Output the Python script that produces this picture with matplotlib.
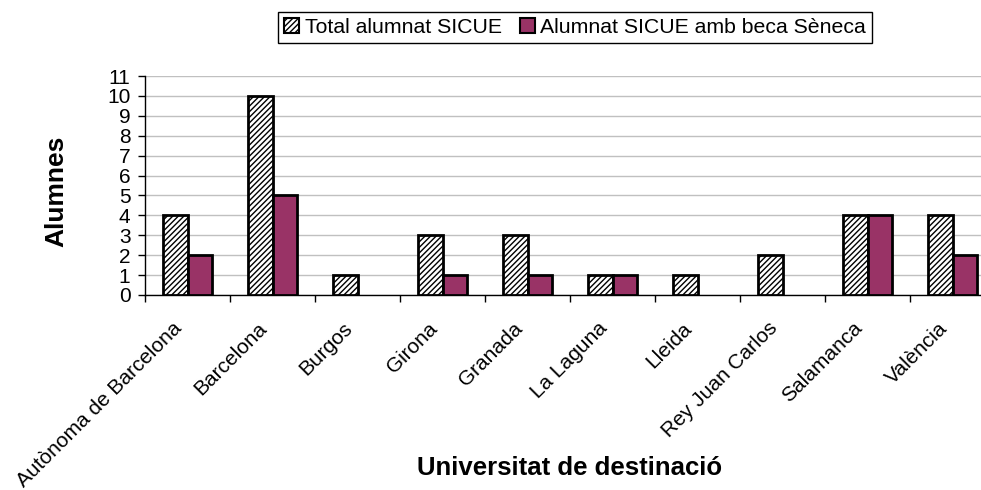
import matplotlib
matplotlib.use("Agg")
import matplotlib.pyplot as plt
import numpy as np
from matplotlib.patches import Patch
from matplotlib.transforms import ScaledTranslation

categories = ["Autònoma de Barcelona", "Barcelona", "Burgos", "Girona", "Granada",
              "La Laguna", "Lleida", "Rey Juan Carlos", "Salamanca", "València"]
total = [4, 10, 1, 3, 3, 1, 1, 2, 4, 4]
beca = [2, 5, 0, 1, 1, 1, 0, 0, 4, 2]
series_names = ["Total alumnat SICUE", "Alumnat SICUE amb beca Sèneca"]
yticks = list(range(0, 12))

plt.rcParams['font.family'] = ['Liberation Sans', 'DejaVu Sans']
plt.rcParams['hatch.linewidth'] = 1.0

fig = plt.figure(figsize=(9.81, 4.9), dpi=100)
ax = fig.add_axes([145/981, 1-295/490, 850/981, (295-76)/490])

x = np.arange(len(categories))
w = 0.29
purple = "#993366"
ax.bar(x - w/2, total, w, color="white", edgecolor="black", hatch="//////", linewidth=2, zorder=3)
bv = [v if v > 0 else np.nan for v in beca]
ax.bar(x + w/2, bv, w, color=purple, edgecolor="black", linewidth=2, zorder=3)

ax.set_xlim(-0.5, len(categories) - 0.5)
ax.set_ylim(0, 11)
ax.set_yticks(yticks)
ax.set_yticklabels([str(t) for t in yticks], fontsize=15)
ax.yaxis.grid(True, color="#c0c0c0", linewidth=1, zorder=0)
ax.set_axisbelow(True)

ax.set_xticks(np.arange(len(categories) + 1) - 0.5)
ax.set_xticklabels([])
ax.set_xticks(x, minor=True)
ax.set_xticklabels(categories, minor=True, rotation=45, ha="right", rotation_mode="anchor", fontsize=15)
ax.tick_params(axis="x", which="minor", length=0, pad=17)
ax.tick_params(axis="x", which="major", length=5, width=1, direction="out")
ax.tick_params(axis="y", length=5, width=1, direction="out", pad=5.5)
shift = ScaledTranslation(-15/100, 0, fig.dpi_scale_trans)
for lab in ax.get_xticklabels(minor=True):
    lab.set_transform(lab.get_transform() + shift)

for s in ["top", "right"]:
    ax.spines[s].set_visible(False)
ax.spines["left"].set_linewidth(1)
ax.spines["bottom"].set_linewidth(1)

fig.text(56/981, 1-191/490, "Alumnes", fontsize=19, fontweight="bold",
         ha="center", va="center", rotation=90)
fig.text(570/981, 1-468/490, "Universitat de destinació", fontsize=18.5, fontweight="bold",
         ha="center", va="center")

handles = [Patch(facecolor="white", edgecolor="black", hatch="//////", linewidth=1.5),
           Patch(facecolor=purple, edgecolor="black", linewidth=1.5)]
leg = fig.legend(handles, series_names, loc="center", bbox_to_anchor=(575/981, 1-27.5/490),
                 ncol=2, fontsize=15.3, frameon=True, fancybox=False, framealpha=1,
                 edgecolor="black", handlelength=0.72, handleheight=0.72, handletextpad=0.25,
                 columnspacing=0.85, borderpad=0.3, borderaxespad=0)
leg.get_frame().set_linewidth(1)

fig.savefig("out.png", dpi=100)
